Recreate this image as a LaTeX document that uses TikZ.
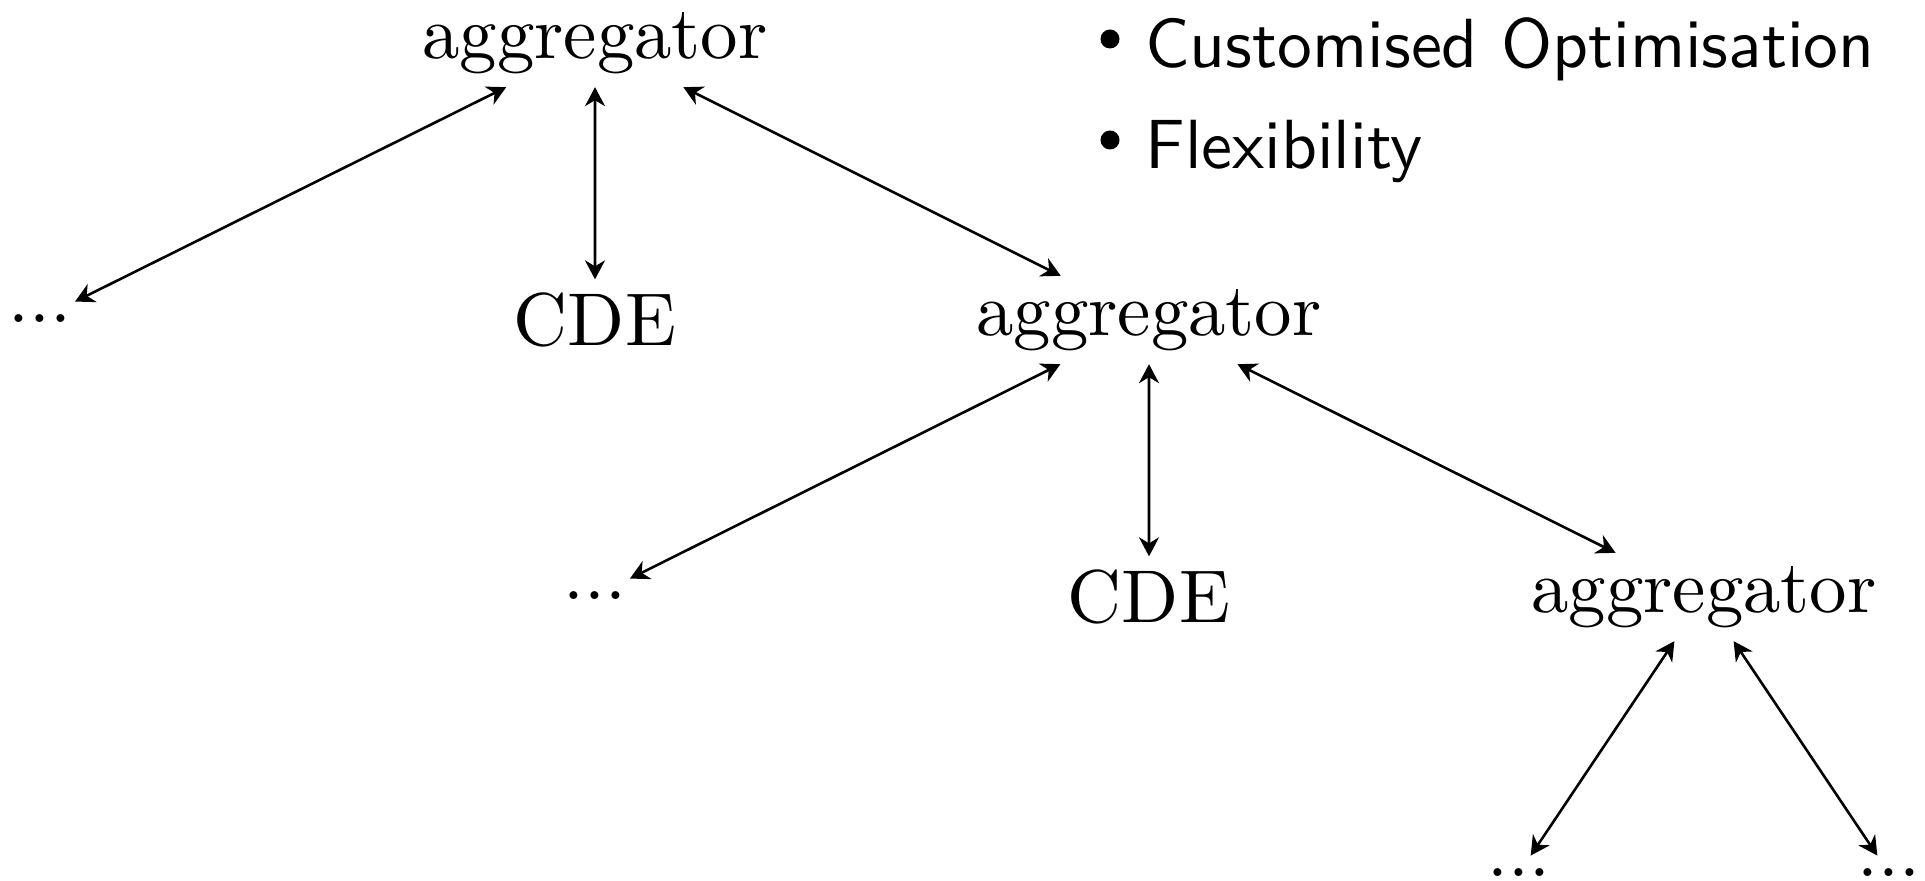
\documentclass[tikz,border=0pt]{standalone}
\usetikzlibrary{arrows.meta}
\begin{document}
\begin{tikzpicture}[x=0.5pt,y=-0.5pt,
  treenode/.style={font=\rmfamily, scale=3.74, inner sep=1.6pt},
  link/.style={{Stealth[length=9.5pt,width=10pt,inset=3pt]}-{Stealth[length=9.5pt,width=10pt,inset=3pt]}, line width=1.3pt},
  bullettext/.style={font=\sffamily, scale=3.48, anchor=base west, inner sep=0pt},
  bulletdot/.style={circle, fill=black, minimum size=9.5pt, inner sep=0pt}]
\useasboundingbox (0,0) rectangle (1925,881);
% level 0
\node[treenode] (A1) at (595,43) {aggregator};
% level 1
\node[treenode] (D1) at (40,319) {...};
\node[treenode] (C1) at (595,320) {CDE};
\node[treenode] (A2) at (1149,320) {aggregator};
% level 2
\node[treenode] (D2) at (595,596) {...};
\node[treenode] (C2) at (1149,597) {CDE};
\node[treenode] (A3) at (1704,597) {aggregator};
% level 3
\node[treenode] (D3) at (1519,873) {...};
\node[treenode] (D4) at (1889,873) {...};
% connectors
\draw[link] (A1) -- (D1);
\draw[link] (A1) -- (C1);
\draw[link] (A1) -- (A2);
\draw[link] (A2) -- (D2);
\draw[link] (A2) -- (C2);
\draw[link] (A2) -- (A3);
\draw[link] (A3) -- (D3);
\draw[link] (A3) -- (D4);
% bullet list
\node[bulletdot] (B1) at (1110,39) {};
\node[bullettext] (T1) at (1144,68) {Customised Optimisation};
\node[bulletdot] (B2) at (1110,140) {};
\node[bullettext] (T2) at (1144,169) {Flexibility};
\end{tikzpicture}
\end{document}
